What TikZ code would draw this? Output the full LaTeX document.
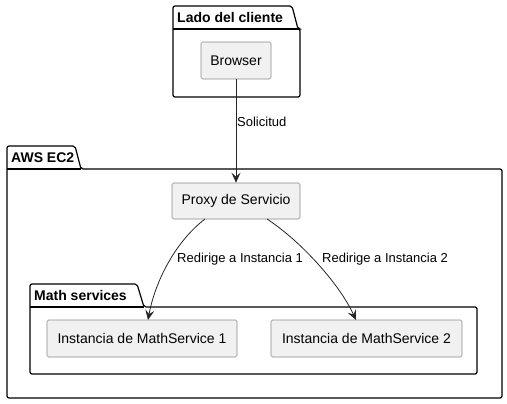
\documentclass[tikz,border=0pt]{standalone}
\usepackage{fontspec}
\setmainfont{Liberation Sans}
\usetikzlibrary{arrows.meta}
\definecolor{boxfill}{HTML}{F1F1F1}
\definecolor{boxline}{HTML}{8A8A8A}
\begin{document}
\begin{tikzpicture}[x=1pt,y=-1pt,
  comp/.style={draw=boxline,fill=boxfill,line width=0.6pt,rounded corners=1.5pt},
  pkg/.style={draw=black,line width=1.2pt,rounded corners=2pt},
  ptitle/.style={font=\bfseries\fontsize{14}{16}\selectfont,anchor=west,inner sep=0pt},
  ctext/.style={font=\fontsize{14}{16}\selectfont,inner sep=0pt},
  ltext/.style={font=\fontsize{13}{15}\selectfont,inner sep=0pt},
  arr/.style={draw=black!85,line width=0.8pt,-{Stealth[length=10pt,width=9pt,inset=4pt]}}]
\useasboundingbox (0,0) rectangle (507,404);
% packages
\draw[pkg] (173,29) -- (173,6) -- (292,6) -- (298,29) -- (300,29) -- (300,97) -- (173,97) -- cycle;
\draw[pkg] (173,29) -- (298,29);
\node[ptitle] (t1) at (177,17.5) {Lado del cliente};
\draw[pkg] (7,169) -- (7,146) -- (75,146) -- (81,169) -- (502,169) -- (502,398) -- (7,398) -- cycle;
\draw[pkg] (7,169) -- (81,169);
\node[ptitle] (t2) at (11,157.5) {AWS EC2};
\draw[pkg] (30,307) -- (30,284) -- (137,284) -- (144,307) -- (477,307) -- (477,374) -- (30,374) -- cycle;
\draw[pkg] (30,307) -- (144,307);
\node[ptitle] (t3) at (34,295.5) {Math services};
% components
\node[comp,ctext,minimum width=70pt,minimum height=37pt] (browser) at (236,60.5) {Browser};
\node[comp,ctext,minimum width=128pt,minimum height=36pt] (proxy) at (236,201) {Proxy de Servicio};
\node[comp,ctext,minimum width=190pt,minimum height=37pt] (m1) at (142,338.5) {Instancia de MathService 1};
\node[comp,ctext,minimum width=191pt,minimum height=37pt] (m2) at (366.5,338.5) {Instancia de MathService 2};
% connectors
\coordinate (p1) at (205,219);
\coordinate (p2) at (267,219);
\coordinate (e1) at (148,320);
\coordinate (e2) at (356,320);
\draw[arr] (browser.south) -- (proxy.north);
\draw[arr] (p1) .. controls (175,242) and (155,282) .. (e1);
\draw[arr] (p2) .. controls (302,242) and (340,285) .. (e2);
% labels
\node[ltext,anchor=west] (l0) at (237,122) {Solicitud};
\node[ltext,anchor=west] (l1) at (177,259) {Redirige a Instancia 1};
\node[ltext,anchor=west] (l2) at (322,259) {Redirige a Instancia 2};
\end{tikzpicture}
\end{document}
